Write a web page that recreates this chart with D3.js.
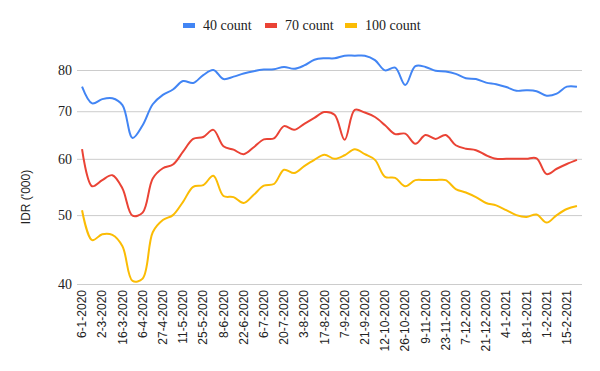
<!DOCTYPE html>
<html>
<head>
<meta charset="utf-8">
<script src="https://cdn.jsdelivr.net/npm/d3@7"></script>
<style>
  body { margin: 0; background: #fff; }
</style>
</head>
<body>
<div id="wrapper"></div>
<script>
const dates = [
    "6-1-2020", "3-2-2020", "2-3-2020", "9-3-2020", "16-3-2020", "30-3-2020",
    "6-4-2020", "20-4-2020", "27-4-2020", "4-5-2020", "11-5-2020", "18-5-2020",
    "25-5-2020", "1-6-2020", "8-6-2020", "15-6-2020", "22-6-2020", "29-6-2020",
    "6-7-2020", "13-7-2020", "20-7-2020", "27-7-2020", "3-8-2020", "10-8-2020",
    "17-8-2020", "31-8-2020", "7-9-2020", "14-9-2020", "21-9-2020", "5-10-2020",
    "12-10-2020", "19-10-2020", "26-10-2020", "2-11-2020", "9-11-2020", "16-11-2020",
    "23-11-2020", "30-11-2020", "7-12-2020", "14-12-2020", "21-12-2020", "28-12-2020",
    "4-1-2021", "11-1-2021", "18-1-2021", "25-1-2021", "1-2-2021", "8-2-2021",
    "15-2-2021", "22-2-2021"
]

const count40 = [
    75.8, 71.8, 72.8, 73.0, 71.4, 64.2, 66.9, 71.6, 73.8, 75.1,
    77.2, 76.7, 78.7, 80.0, 77.7, 78.3, 79.1, 79.7, 80.1, 80.2,
    80.8, 80.3, 81.2, 82.7, 83.1, 83.1, 83.8, 83.8, 83.8, 82.6,
    79.9, 80.6, 76.2, 81.0, 80.8, 79.8, 79.6, 79.0, 77.9, 77.7,
    76.8, 76.4, 75.7, 74.8, 74.9, 74.7, 73.6, 74.1, 75.8, 75.8
]

const count70 = [
    61.9, 54.9, 56.0, 56.9, 54.5, 49.9, 50.4, 56.3, 58.2, 58.9,
    61.4, 64.0, 64.4, 65.9, 62.5, 61.8, 60.9, 62.3, 63.9, 64.1,
    66.7, 65.9, 67.2, 68.5, 69.8, 69.2, 63.8, 70.3, 69.7, 68.7,
    66.9, 65.0, 65.1, 63.0, 64.8, 64.0, 64.8, 62.7, 62.0, 61.7,
    60.7, 60.0, 60.0, 60.0, 60.0, 60.1, 57.1, 58.1, 59.0, 59.8
]

const count100 = [
    50.8, 46.1, 47.0, 46.9, 45.2, 40.4, 40.7, 47.3, 49.2, 50.0,
    52.2, 54.8, 55.1, 56.8, 53.2, 53.0, 52.0, 53.4, 55.0, 55.3,
    57.9, 57.3, 58.6, 59.8, 60.8, 60.0, 60.7, 61.9, 60.9, 59.8,
    56.6, 56.4, 54.9, 56.0, 56.0, 56.0, 56.0, 54.4, 53.8, 53.0,
    52.0, 51.6, 50.8, 50.0, 49.7, 50.1, 48.8, 50.0, 51.0, 51.5
]

const seriesNames = ["40 count", "70 count", "100 count"]
const seriesColors = ["#4285f4", "#ea4335", "#fbbc04"]
const yTicks = [40, 50, 60, 70, 80]

const series = [count40, count70, count100].map((values, i) => ({
    name: seriesNames[i],
    color: seriesColors[i],
    values: values.map((v, j) => ({ date: dates[j], value: v }))
}))

const dimensions = {
    width: 600,
    height: 371,
    plotLeft: 77,
    plotRight: 582,
    plotTop: 70,
    plotBottom: 284
}

const svg = d3.select("#wrapper")
    .append("svg")
    .attr("width", dimensions.width)
    .attr("height", dimensions.height)

const xScale = d3.scaleBand()
    .domain(dates)
    .range([dimensions.plotLeft, dimensions.plotRight])

// log axis: 80 sits on the top gridline, 40 on the baseline
const yScale = d3.scaleLog()
    .domain([40, 80])
    .range([dimensions.plotBottom, dimensions.plotTop])

// gridlines + y tick labels
const yAxis = svg.append("g")
    .attr("transform", `translate(${dimensions.plotLeft},0)`)
    .call(d3.axisLeft(yScale)
        .tickValues(yTicks)
        .tickFormat(d3.format("d"))
        .tickSize(-(dimensions.plotRight - dimensions.plotLeft))
        .tickPadding(5))

yAxis.select(".domain").remove()
yAxis.selectAll(".tick line").attr("stroke", "#cccccc")
yAxis.selectAll(".tick text")
    .attr("fill", "#222")
    .style("font-family", "'Liberation Serif', serif")
    .style("font-size", "14px")

// x axis labels, every other row
const xAxis = svg.append("g")
    .attr("transform", `translate(0,${dimensions.plotBottom})`)
    .call(d3.axisBottom(xScale)
        .tickValues(dates.filter((d, i) => i % 2 === 0))
        .tickSize(0))

xAxis.select(".domain").remove()
xAxis.selectAll(".tick text")
    .attr("transform", "rotate(-90)")
    .attr("x", -6)
    .attr("y", 0)
    .attr("dy", "0.35em")
    .attr("fill", "#222")
    .style("text-anchor", "end")
    .style("font-family", "'Liberation Sans', Arial, sans-serif")
    .style("font-size", "12px")

svg.append("text")
    .attr("transform", "translate(30,197) rotate(-90)")
    .attr("text-anchor", "middle")
    .attr("fill", "#222")
    .style("font-family", "'Liberation Sans', Arial, sans-serif")
    .style("font-size", "12px")
    .text("IDR ('000)")

const lineGenerator = d3.line()
    .x(d => xScale(d.date) + xScale.bandwidth() / 2)
    .y(d => yScale(d.value))
    .curve(d3.curveCatmullRom.alpha(0.5))

svg.selectAll(".series")
    .data(series)
    .enter()
    .append("path")
    .attr("class", "series")
    .attr("d", d => lineGenerator(d.values))
    .attr("fill", "none")
    .attr("stroke", d => d.color)
    .attr("stroke-width", 2)

// legend
const legendX = [183, 265, 345]
const legend = svg.selectAll(".legend")
    .data(series)
    .enter()
    .append("g")
    .attr("class", "legend")
    .attr("transform", (d, i) => `translate(${legendX[i]},25)`)

legend.append("rect")
    .attr("x", 0)
    .attr("y", -2)
    .attr("width", 12)
    .attr("height", 5)
    .attr("fill", d => d.color)

legend.append("text")
    .attr("x", 20)
    .attr("y", 5)
    .attr("fill", "#222")
    .style("font-family", "'Liberation Serif', serif")
    .style("font-size", "14px")
    .text(d => d.name)
</script>
</body>
</html>
